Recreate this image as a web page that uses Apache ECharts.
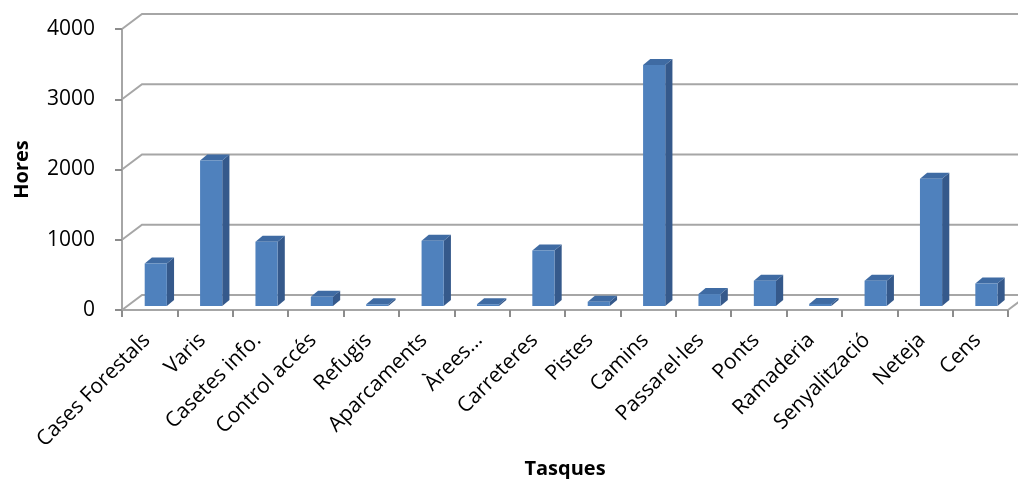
<!DOCTYPE html>
<html>
<head>
<meta charset="utf-8">
<script src="https://cdn.jsdelivr.net/npm/echarts@6/dist/echarts.min.js"></script>
<style>
html,body{margin:0;padding:0;background:#fff;}
#chart{width:1018px;height:479px;}
</style>
</head>
<body>
<div id="chart"></div>
<script>
const categories = ['Cases Forestals','Varis','Casetes info.','Control accés','Refugis','Aparcaments','Àrees…','Carreteres','Pistes','Camins','Passarel·les','Ponts','Ramaderia','Senyalització','Neteja','Cens'];
const hores = [605, 2070, 915, 130, 25, 930, 25, 790, 60, 3430, 170, 360, 30, 360, 1810, 320];
const yTicks = [0, 1000, 2000, 3000, 4000];

const DX = 20, DY = 15; // 3D wall offset
const FONT = '"Open Sans", "Liberation Sans", sans-serif';

const chart = echarts.init(document.getElementById('chart'));

function gridRender(params, api) {
  const cs = params.coordSys;
  const v = api.value(0);
  const y = api.coord([0, v])[1];
  const x0 = cs.x, x1 = cs.x + cs.width;
  const children = [{
    type: 'polyline',
    shape: { points: [[x0, y], [x0 + DX, y - DY], [x1 + DX + 20, y - DY]] },
    style: { stroke: '#a6a6a6', lineWidth: 2, fill: null }
  }];
  if (v === 0) {
    children.push({
      type: 'line',
      shape: { x1: x1, y1: y, x2: x1 + DX, y2: y - DY },
      style: { stroke: '#a6a6a6', lineWidth: 2 }
    });
  }
  return { type: 'group', children: children };
}

function barRender(params, api) {
  const i = api.value(0), v = api.value(1);
  const band = api.size([1, 0])[0];
  const cx = api.coord([i, v])[0];
  const topY = api.coord([i, v])[1] - 4;
  const baseY = api.coord([i, 0])[1] - 4;
  const fw = band * 0.4;
  const left = cx - band * 0.09;
  const dx = band * 0.13, dy = 6;
  const right = left + fw;
  return {
    type: 'group',
    children: [
      { type: 'polygon', shape: { points: [[right, topY], [right + dx, topY - dy], [right + dx, baseY - dy], [right, baseY]] },
        style: { fill: '#35598b' } },
      { type: 'polygon', shape: { points: [[left, topY], [left + dx, topY - dy], [right + dx, topY - dy], [right, topY]] },
        style: { fill: '#3f6ba3' } },
      { type: 'rect', shape: { x: left, y: topY, width: fw, height: Math.max(baseY - topY, 0) },
        style: { fill: '#4f81bd' } }
    ]
  };
}

chart.setOption({
  animation: false,
  backgroundColor: '#ffffff',
  grid: { left: 122, right: 10, top: 29, bottom: 169, containLabel: false, outerBoundsMode: 'none' },
  xAxis: {
    type: 'category',
    data: categories,
    name: 'Tasques',
    nameLocation: 'middle',
    nameGap: 149,
    nameMoveOverlap: false,
    nameTextStyle: { fontFamily: FONT, fontSize: 20, fontWeight: 'bold', color: '#000' },
    axisLine: { show: true, lineStyle: { color: '#a6a6a6', width: 2 } },
    axisTick: { show: true, length: 7, lineStyle: { color: '#8c8c8c', width: 2 } },
    axisLabel: { rotate: 45, margin: 24, padding: [0, 4, 0, 0], fontFamily: FONT, fontSize: 21, color: '#000', interval: 0 },
    splitLine: { show: false }
  },
  yAxis: {
    type: 'value',
    min: 0, max: 4000, interval: 1000,
    name: 'Hores',
    nameLocation: 'middle',
    nameGap: 90,
    nameRotate: 90,
    nameMoveOverlap: false,
    nameTextStyle: { fontFamily: FONT, fontSize: 20, fontWeight: 'bold', color: '#000' },
    axisLine: { show: true, lineStyle: { color: '#a6a6a6', width: 2 } },
    axisTick: { show: true, length: 7, lineStyle: { color: '#8c8c8c', width: 2 } },
    axisLabel: { margin: 27, fontFamily: FONT, fontSize: 21, color: '#000', formatter: v => String(v) },
    splitLine: { show: false }
  },
  series: [
    {
      type: 'custom',
      renderItem: gridRender,
      data: yTicks.map(v => [v]),
      encode: { y: 0 },
      clip: false,
      silent: true,
      z: 1
    },
    {
      type: 'custom',
      renderItem: barRender,
      data: hores.map((v, i) => [i, v]),
      encode: { x: 0, y: 1 },
      clip: false,
      z: 2
    }
  ]
});
</script>
</body>
</html>
